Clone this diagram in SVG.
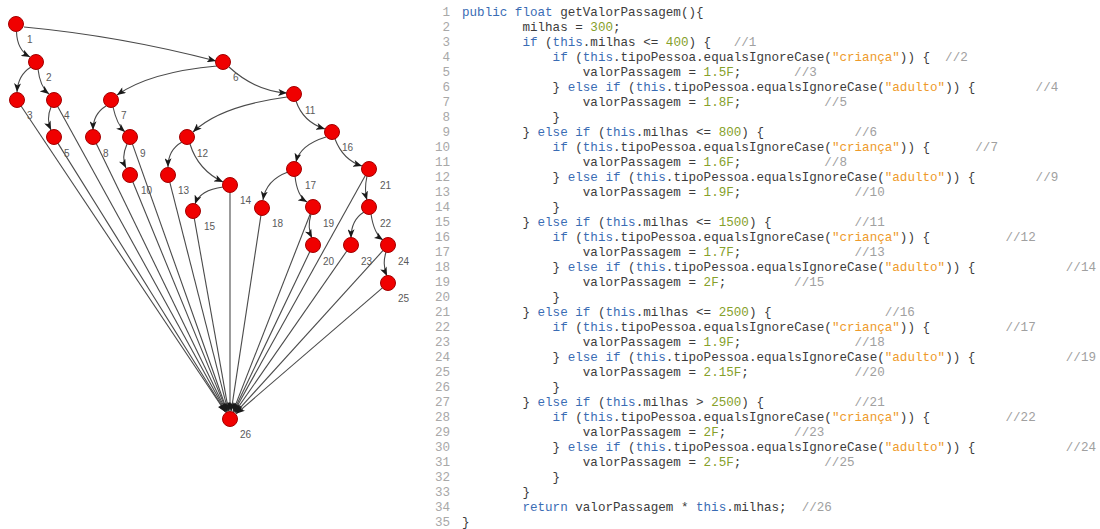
<svg xmlns="http://www.w3.org/2000/svg" width="1100" height="529" viewBox="0 0 1100 529">
<style>
.node circle{fill:#f00000;stroke:#a30000;stroke-width:1}
.node text{font-family:"Liberation Sans",Arial,sans-serif;font-size:10px;fill:#5a5a5a}
.e{fill:none;stroke:#4a4a4a;stroke-width:1.1;marker-end:url(#arr)}
.code{font-family:"Liberation Mono","DejaVu Sans Mono",monospace;font-size:12.58px;fill:#3c3c3c}
.ln{font-family:"Liberation Mono","DejaVu Sans Mono",monospace;font-size:12.58px;fill:#a8a8a8;text-anchor:end}
.k{fill:#3a6cb4}
.n{fill:#86a02a}
.s{fill:#ee9a2a}
.c{fill:#a0a0a0}
</style>
<defs>
<marker id="arr" viewBox="0 0 10 8" refX="10" refY="4" markerWidth="9" markerHeight="7" markerUnits="userSpaceOnUse" orient="auto">
<path d="M0,0 L10,4 L0,8 L2.5,4 z" fill="#1a1a1a"/>
</marker>
</defs>
<rect width="1100" height="529" fill="#ffffff"/>
<g id="edges">
<path class="e" d="M16.5,31.5 Q17,50 30,57"/>
<path class="e" d="M24,27 Q120,36 216,61"/>
<path class="e" d="M31,67 Q18,75 17,92"/>
<path class="e" d="M38,69 Q40,87 49,94"/>
<path class="e" d="M51,107 Q46,119 51,130"/>
<path class="e" d="M217,66 Q150,72 117,95"/>
<path class="e" d="M229,67 Q255,91 287,93"/>
<path class="e" d="M106,106 Q93,114 93,130"/>
<path class="e" d="M113,107 Q117,125 125,132"/>
<path class="e" d="M127,144 Q121,158 126,168"/>
<path class="e" d="M287,97 Q220,106 193,132"/>
<path class="e" d="M296,101 Q303,122 325,129"/>
<path class="e" d="M182,142 Q168,150 168,167"/>
<path class="e" d="M190,144 Q198,170 223,182"/>
<path class="e" d="M223,187 Q200,190 195,204"/>
<path class="e" d="M326,137 Q300,145 296,162"/>
<path class="e" d="M335,139 Q343,160 362,166"/>
<path class="e" d="M288,172 Q266,180 263,200"/>
<path class="e" d="M295,176 Q297,196 307,202"/>
<path class="e" d="M311,214 Q307,228 312,238"/>
<path class="e" d="M367,176 Q364,190 367,200"/>
<path class="e" d="M364,212 Q351,220 351,238"/>
<path class="e" d="M371,214 Q374,234 383,240"/>
<path class="e" d="M386,252 Q382,265 387,276"/>
<path class="e" d="M20.9,105.8 L225.6,412.3"/>
<path class="e" d="M57.4,106.1 L226.1,412"/>
<path class="e" d="M57.7,142.9 L225.8,412.2"/>
<path class="e" d="M96.1,143.3 L226.5,411.8"/>
<path class="e" d="M132.3,143.6 L227.3,411.5"/>
<path class="e" d="M132.7,181.5 L227,411.6"/>
<path class="e" d="M169.7,181.8 L228,411.2"/>
<path class="e" d="M230,192.5 L230,411"/>
<path class="e" d="M194.2,217.9 L228.6,411.1"/>
<path class="e" d="M261,214.9 L231.2,411.1"/>
<path class="e" d="M310.4,213.5 L232.9,411.6"/>
<path class="e" d="M310,251.3 L233.4,411.8"/>
<path class="e" d="M365.6,175.1 L233.9,412"/>
<path class="e" d="M347,250.7 L234.6,412.4"/>
<path class="e" d="M383.3,250.2 L235.4,413.1"/>
<path class="e" d="M382.7,287.6 L236.1,413.8"/>
</g>
<g id="node1" class="node"><circle cx="16" cy="24" r="7.5"/><text x="27" y="43">1</text></g>
<g id="node2" class="node"><circle cx="36" cy="62" r="7.5"/><text x="46" y="81">2</text></g>
<g id="node3" class="node"><circle cx="17" cy="100" r="7.5"/><text x="27" y="119">3</text></g>
<g id="node4" class="node"><circle cx="54" cy="100" r="7.5"/><text x="64" y="119">4</text></g>
<g id="node5" class="node"><circle cx="54" cy="137" r="7.5"/><text x="64" y="157">5</text></g>
<g id="node6" class="node"><circle cx="223" cy="62" r="7.5"/><text x="233" y="81">6</text></g>
<g id="node7" class="node"><circle cx="111" cy="100" r="7.5"/><text x="121" y="119">7</text></g>
<g id="node8" class="node"><circle cx="93" cy="137" r="7.5"/><text x="103" y="157">8</text></g>
<g id="node9" class="node"><circle cx="130" cy="137" r="7.5"/><text x="140" y="157">9</text></g>
<g id="node10" class="node"><circle cx="130" cy="175" r="7.5"/><text x="141" y="194">10</text></g>
<g id="node11" class="node"><circle cx="294" cy="94" r="7.5"/><text x="305" y="114">11</text></g>
<g id="node12" class="node"><circle cx="187" cy="137" r="7.5"/><text x="197" y="157">12</text></g>
<g id="node13" class="node"><circle cx="168" cy="175" r="7.5"/><text x="178" y="194">13</text></g>
<g id="node14" class="node"><circle cx="230" cy="185" r="7.5"/><text x="240" y="204">14</text></g>
<g id="node15" class="node"><circle cx="193" cy="211" r="7.5"/><text x="204" y="230">15</text></g>
<g id="node16" class="node"><circle cx="332" cy="132" r="7.5"/><text x="342" y="151">16</text></g>
<g id="node17" class="node"><circle cx="294" cy="169" r="7.5"/><text x="305" y="189">17</text></g>
<g id="node18" class="node"><circle cx="262" cy="208" r="7.5"/><text x="272" y="227">18</text></g>
<g id="node19" class="node"><circle cx="313" cy="207" r="7.5"/><text x="323" y="227">19</text></g>
<g id="node20" class="node"><circle cx="313" cy="245" r="7.5"/><text x="323" y="265">20</text></g>
<g id="node21" class="node"><circle cx="369" cy="169" r="7.5"/><text x="380" y="189">21</text></g>
<g id="node22" class="node"><circle cx="369" cy="207" r="7.5"/><text x="380" y="227">22</text></g>
<g id="node23" class="node"><circle cx="351" cy="245" r="7.5"/><text x="361" y="265">23</text></g>
<g id="node24" class="node"><circle cx="388" cy="245" r="7.5"/><text x="398" y="265">24</text></g>
<g id="node25" class="node"><circle cx="388" cy="283" r="7.5"/><text x="398" y="302">25</text></g>
<g id="node26" class="node"><circle cx="230" cy="419" r="7.5"/><text x="240" y="438">26</text></g>
<g id="linenumbers" class="ln">
<text x="450" y="15.5">1</text><text x="450" y="30.5">2</text><text x="450" y="45.5">3</text><text x="450" y="60.5">4</text><text x="450" y="75.5">5</text><text x="450" y="90.5">6</text><text x="450" y="105.5">7</text><text x="450" y="120.5">8</text><text x="450" y="135.5">9</text><text x="450" y="150.5">10</text><text x="450" y="165.5">11</text><text x="450" y="180.5">12</text><text x="450" y="195.5">13</text><text x="450" y="210.5">14</text><text x="450" y="225.5">15</text><text x="450" y="240.5">16</text><text x="450" y="255.5">17</text><text x="450" y="270.5">18</text><text x="450" y="285.5">19</text><text x="450" y="300.5">20</text><text x="450" y="315.5">21</text><text x="450" y="330.5">22</text><text x="450" y="345.5">23</text><text x="450" y="360.5">24</text><text x="450" y="375.5">25</text><text x="450" y="390.5">26</text><text x="450" y="405.5">27</text><text x="450" y="420.5">28</text><text x="450" y="435.5">29</text><text x="450" y="450.5">30</text><text x="450" y="465.5">31</text><text x="450" y="480.5">32</text><text x="450" y="495.5">33</text><text x="450" y="510.5">34</text><text x="450" y="525.5">35</text>
</g>
<g id="code" class="code" xml:space="preserve">
<text x="462" y="15.5"><tspan class="k">public float</tspan> getValorPassagem(){</text>
<text x="522.4" y="30.5">milhas = <tspan class="n">300</tspan>;</text>
<text x="522.4" y="45.5"><tspan class="k">if</tspan> (<tspan class="k">this</tspan>.milhas &lt;= <tspan class="n">400</tspan>) {<tspan class="c" x="733.7">//1</tspan></text>
<text x="552.6" y="60.5"><tspan class="k">if</tspan> (<tspan class="k">this</tspan>.tipoPessoa.equalsIgnoreCase(<tspan class="s">"criança"</tspan>)) {<tspan class="c" x="945.1">//2</tspan></text>
<text x="582.8" y="75.5">valorPassagem = <tspan class="n">1.5F</tspan>;<tspan class="c" x="794.1">//3</tspan></text>
<text x="552.6" y="90.5">} <tspan class="k">else if</tspan> (<tspan class="k">this</tspan>.tipoPessoa.equalsIgnoreCase(<tspan class="s">"adulto"</tspan>)) {<tspan class="c" x="1035.6">//4</tspan></text>
<text x="582.8" y="105.5">valorPassagem = <tspan class="n">1.8F</tspan>;<tspan class="c" x="824.3">//5</tspan></text>
<text x="552.6" y="120.5">}</text>
<text x="522.4" y="135.5">} <tspan class="k">else if</tspan> (<tspan class="k">this</tspan>.milhas &lt;= <tspan class="n">800</tspan>) {<tspan class="c" x="854.5">//6</tspan></text>
<text x="552.6" y="150.5"><tspan class="k">if</tspan> (<tspan class="k">this</tspan>.tipoPessoa.equalsIgnoreCase(<tspan class="s">"criança"</tspan>)) {<tspan class="c" x="975.3">//7</tspan></text>
<text x="582.8" y="165.5">valorPassagem = <tspan class="n">1.6F</tspan>;<tspan class="c" x="824.3">//8</tspan></text>
<text x="552.6" y="180.5">} <tspan class="k">else if</tspan> (<tspan class="k">this</tspan>.tipoPessoa.equalsIgnoreCase(<tspan class="s">"adulto"</tspan>)) {<tspan class="c" x="1035.6">//9</tspan></text>
<text x="582.8" y="195.5">valorPassagem = <tspan class="n">1.9F</tspan>;<tspan class="c" x="854.5">//10</tspan></text>
<text x="552.6" y="210.5">}</text>
<text x="522.4" y="225.5">} <tspan class="k">else if</tspan> (<tspan class="k">this</tspan>.milhas &lt;= <tspan class="n">1500</tspan>) {<tspan class="c" x="854.5">//11</tspan></text>
<text x="552.6" y="240.5"><tspan class="k">if</tspan> (<tspan class="k">this</tspan>.tipoPessoa.equalsIgnoreCase(<tspan class="s">"criança"</tspan>)) {<tspan class="c" x="1005.5">//12</tspan></text>
<text x="582.8" y="255.5">valorPassagem = <tspan class="n">1.7F</tspan>;<tspan class="c" x="854.5">//13</tspan></text>
<text x="552.6" y="270.5">} <tspan class="k">else if</tspan> (<tspan class="k">this</tspan>.tipoPessoa.equalsIgnoreCase(<tspan class="s">"adulto"</tspan>)) {<tspan class="c" x="1065.8">//14</tspan></text>
<text x="582.8" y="285.5">valorPassagem = <tspan class="n">2F</tspan>;<tspan class="c" x="794.1">//15</tspan></text>
<text x="552.6" y="300.5">}</text>
<text x="522.4" y="315.5">} <tspan class="k">else if</tspan> (<tspan class="k">this</tspan>.milhas &lt;= <tspan class="n">2500</tspan>) {<tspan class="c" x="884.7">//16</tspan></text>
<text x="552.6" y="330.5"><tspan class="k">if</tspan> (<tspan class="k">this</tspan>.tipoPessoa.equalsIgnoreCase(<tspan class="s">"criança"</tspan>)) {<tspan class="c" x="1005.5">//17</tspan></text>
<text x="582.8" y="345.5">valorPassagem = <tspan class="n">1.9F</tspan>;<tspan class="c" x="854.5">//18</tspan></text>
<text x="552.6" y="360.5">} <tspan class="k">else if</tspan> (<tspan class="k">this</tspan>.tipoPessoa.equalsIgnoreCase(<tspan class="s">"adulto"</tspan>)) {<tspan class="c" x="1065.8">//19</tspan></text>
<text x="582.8" y="375.5">valorPassagem = <tspan class="n">2.15F</tspan>;<tspan class="c" x="854.5">//20</tspan></text>
<text x="552.6" y="390.5">}</text>
<text x="522.4" y="405.5">} <tspan class="k">else if</tspan> (<tspan class="k">this</tspan>.milhas &gt; <tspan class="n">2500</tspan>) {<tspan class="c" x="854.5">//21</tspan></text>
<text x="552.6" y="420.5"><tspan class="k">if</tspan> (<tspan class="k">this</tspan>.tipoPessoa.equalsIgnoreCase(<tspan class="s">"criança"</tspan>)) {<tspan class="c" x="1005.5">//22</tspan></text>
<text x="582.8" y="435.5">valorPassagem = <tspan class="n">2F</tspan>;<tspan class="c" x="794.1">//23</tspan></text>
<text x="552.6" y="450.5">} <tspan class="k">else if</tspan> (<tspan class="k">this</tspan>.tipoPessoa.equalsIgnoreCase(<tspan class="s">"adulto"</tspan>)) {<tspan class="c" x="1065.8">//24</tspan></text>
<text x="582.8" y="465.5">valorPassagem = <tspan class="n">2.5F</tspan>;<tspan class="c" x="824.3">//25</tspan></text>
<text x="552.6" y="480.5">}</text>
<text x="522.4" y="495.5">}</text>
<text x="522.4" y="510.5"><tspan class="k">return</tspan> valorPassagem * <tspan class="k">this</tspan>.milhas;<tspan class="c" x="801.7">//26</tspan></text>
<text x="462" y="525.5">}</text>
</g>
</svg>
